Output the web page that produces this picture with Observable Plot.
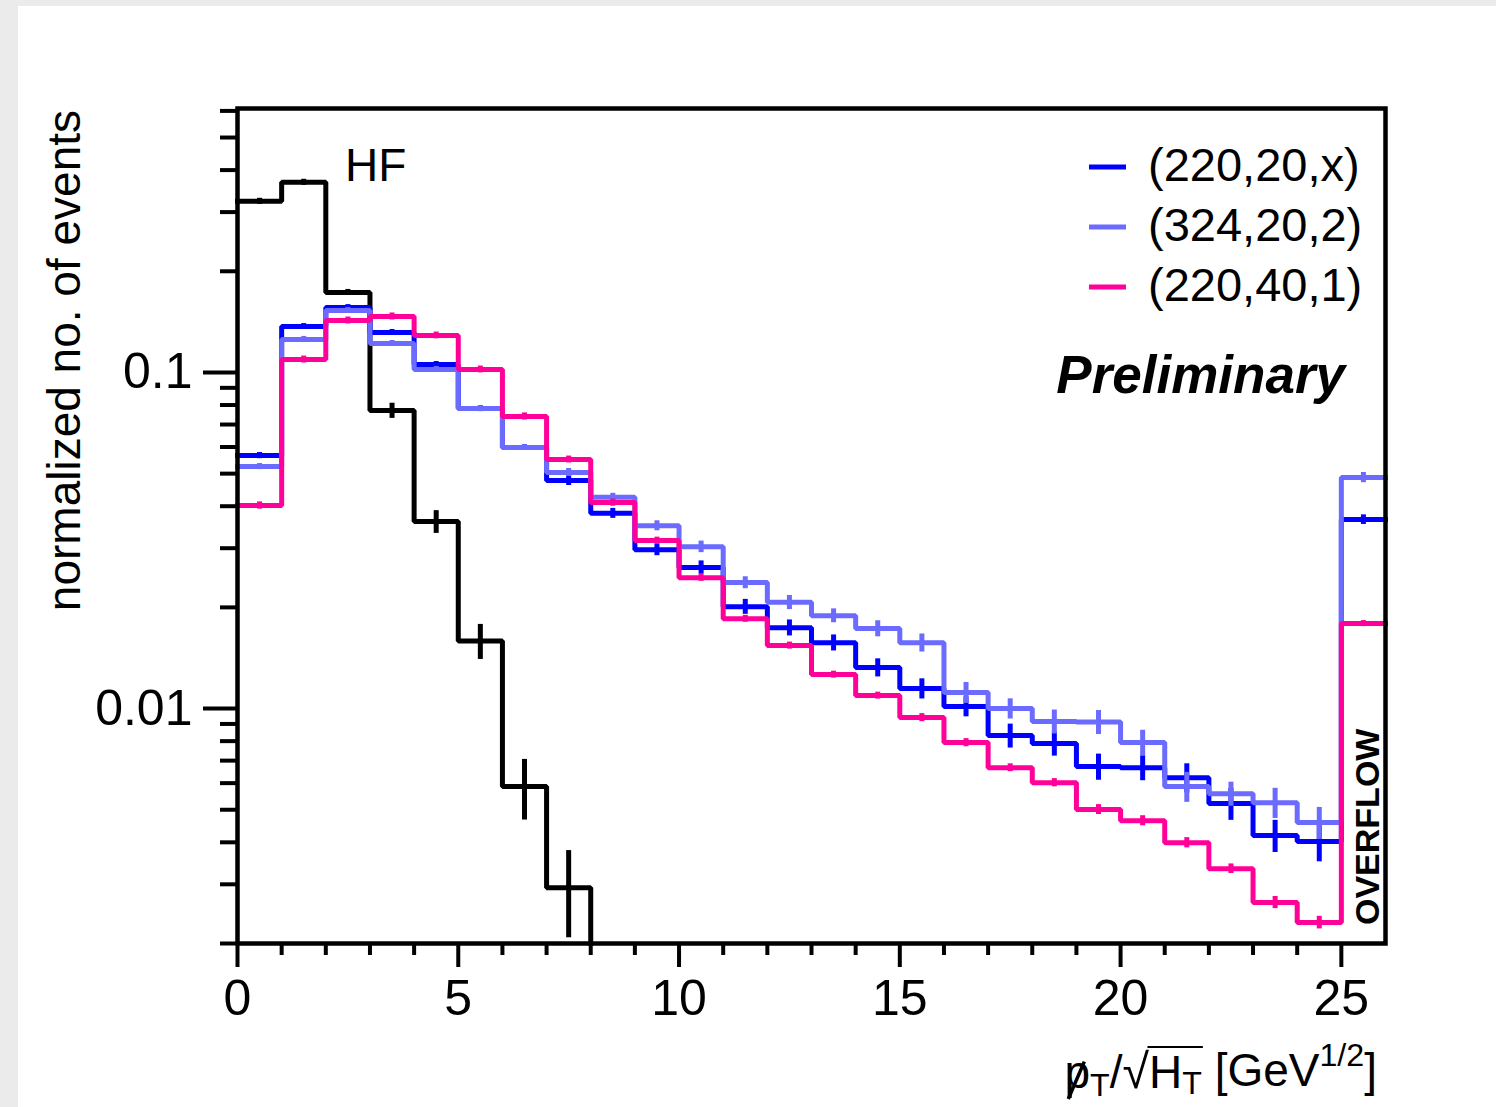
<!DOCTYPE html>
<html>
<head>
<meta charset="utf-8">
<script src="https://cdn.jsdelivr.net/npm/d3@7"></script>
<script src="https://cdn.jsdelivr.net/npm/@observablehq/plot@0.6"></script>
<style>
  html, body { margin: 0; padding: 0; background: #ebebeb; width: 1496px; height: 1107px; overflow: hidden; }
  #panel { position: absolute; left: 18px; top: 6px; width: 1478px; height: 1101px; background: #ffffff; }
</style>
</head>
<body>
<div id="panel"></div>
<script>
// ---- data: bin index 0..25 (bin 25 = overflow), bin width 1 ----
const binEdges = [0,1,2,3,4,5,6,7,8,9,10,11,12,13,14,15,16,17,18,19,20,21,22,23,24,25];

const hfValues = [0.323, 0.368, 0.173, 0.077, 0.036, 0.0159, 0.00586, 0.00293];
const hfErrors = [0.0067, 0.0076, 0.0036, 0.004, 0.0028, 0.0019, 0.0012, 0.00085];

const blueValues = [0.0566, 0.137, 0.156, 0.1315, 0.1056, 0.0781, 0.0598, 0.0477, 0.0381, 0.0297,
  0.0263, 0.0201, 0.0174, 0.0157, 0.01324, 0.01147, 0.01014, 0.00831, 0.00787, 0.00672,
  0.00667, 0.00623, 0.00522, 0.00419, 0.00402, 0.0365];
const blueErrors = [0.0012, 0.0028, 0.0032, 0.0027, 0.0022, 0.0016, 0.0012, 0.0016, 0.0013, 0.0012,
  0.0012, 0.00103, 0.00095, 0.00086, 0.00082, 0.00079, 0.00069, 0.00068, 0.00065, 0.0006,
  0.00057, 0.00062, 0.00057, 0.00046, 0.00052, 0.0012];

const lightValues = [0.0525, 0.1254, 0.1529, 0.122, 0.1021, 0.0781, 0.0598, 0.0504, 0.0425, 0.035,
  0.0303, 0.0237, 0.0207, 0.0189, 0.0173, 0.0157, 0.01116, 0.0100, 0.00915, 0.00912,
  0.00792, 0.00586, 0.00558, 0.00525, 0.00458, 0.0487];
const lightErrors = [0.0011, 0.0026, 0.0031, 0.0025, 0.0021, 0.0016, 0.0012, 0.0014, 0.0012, 0.0012,
  0.0012, 0.00097, 0.001, 0.0009, 0.00095, 0.00097, 0.0008, 0.00069, 0.00075, 0.00075,
  0.0007, 0.0006, 0.00046, 0.00054, 0.0005, 0.0017];

const pinkValues = [0.0402, 0.1093, 0.1428, 0.1468, 0.1289, 0.1021, 0.074, 0.0551, 0.041, 0.0316,
  0.0245, 0.0185, 0.0154, 0.01262, 0.01093, 0.0094, 0.00792, 0.00667, 0.00602, 0.00501,
  0.00464, 0.00399, 0.00334, 0.00265, 0.00231, 0.0179];
const pinkErrors = [0.001, 0.0026, 0.0034, 0.0035, 0.003, 0.0024, 0.0018, 0.0013, 0.001, 0.00076,
  0.00059, 0.00044, 0.00037, 0.0003, 0.00026, 0.00026, 0.00022, 0.00018, 0.00017, 0.00017,
  0.00016, 0.00014, 0.00011, 0.00011, 0.0001, 0.00037];

const seriesNames = ["(220,20,x)", "(324,20,2)", "(220,40,1)"];
const seriesColors = ["#0000ff", "#6b6bff", "#ff0099"];
const hfColor = "#000000";

const xMajorTicks = [0, 5, 10, 15, 20, 25];
const xMinorTicks = [1,2,3,4,6,7,8,9,11,12,13,14,16,17,18,19,21,22,23,24];
const yMajorTicks = [0.01, 0.1];
const yMajorLabels = ["0.01", "0.1"];
const yMinorTicks = [0.002,0.003,0.004,0.005,0.006,0.007,0.008,0.009,0.02,0.03,0.04,0.05,0.06,0.07,0.08,0.09,0.2,0.3,0.4,0.5,0.6];
const xDomain = [0, 26];
const yDomain = [0.002, 0.61];

// ---- build step paths and error bars from the arrays ----
function steps(values) {
  const pts = [];
  values.forEach((v, i) => { pts.push({x: binEdges[i], y: v}); pts.push({x: binEdges[i] + 1, y: v}); });
  return pts;
}
function errs(values, errors) {
  return values.map((v, i) => ({x: binEdges[i] + 0.5, lo: v - errors[i], hi: v + errors[i]}));
}
const hfSteps = steps(hfValues);
hfSteps.push({x: binEdges[hfValues.length], y: yDomain[0]}); // drops out of the range after last filled bin

const LW = 5;
const lineOpts = (color) => ({x: "x", y: "y", stroke: color, strokeWidth: LW, strokeLinejoin: "miter", strokeLinecap: "square"});
const errOpts = (color) => ({x: "x", y1: "lo", y2: "hi", stroke: color, strokeWidth: LW, strokeLinecap: "butt"});

const FONT = "'Liberation Sans', Arial, Helvetica, sans-serif";

const chart = Plot.plot({
  width: 1478,
  height: 1101,
  marginLeft: 219,
  marginRight: 111,
  marginTop: 102,
  marginBottom: 164,
  style: {fontFamily: FONT, background: "transparent", color: "black"},
  x: {domain: xDomain, label: null},
  y: {type: "log", domain: yDomain, label: null},
  marks: [
    Plot.line(hfSteps, lineOpts(hfColor)),
    Plot.ruleX(errs(hfValues, hfErrors), errOpts(hfColor)),
    Plot.line(steps(blueValues), lineOpts(seriesColors[0])),
    Plot.ruleX(errs(blueValues, blueErrors), errOpts(seriesColors[0])),
    Plot.line(steps(lightValues), lineOpts(seriesColors[1])),
    Plot.ruleX(errs(lightValues, lightErrors), errOpts(seriesColors[1])),
    Plot.line(steps(pinkValues), lineOpts(seriesColors[2])),
    Plot.ruleX(errs(pinkValues, pinkErrors), errOpts(seriesColors[2])),
    Plot.axisY(yMinorTicks, {tickSize: 17, tickFormat: () => "", strokeWidth: 4, label: null}),
    Plot.axisY(yMajorTicks, {tickSize: 34, tickPadding: 11, tickFormat: (d) => yMajorLabels[yMajorTicks.indexOf(d)], fontSize: 50, strokeWidth: 4, label: null}),
    Plot.axisX(xMinorTicks, {tickSize: 12, tickFormat: () => "", strokeWidth: 4, label: null}),
    Plot.axisX(xMajorTicks, {tickSize: 24, tickPadding: 12, fontSize: 50, strokeWidth: 4, label: null}),
    Plot.frame({stroke: "black", strokeWidth: 4.5})
  ]
});
chart.style.position = "absolute";
chart.style.left = "0px";
chart.style.top = "0px";
document.getElementById("panel").appendChild(chart);

// ---- annotations ----
const svg = d3.select(chart);
const g = svg.append("g").attr("font-family", FONT).attr("fill", "black").attr("text-anchor", "start");

// HF label
g.append("text").attr("x", 327).attr("y", 175).attr("font-size", 46).attr("text-anchor", "start").text("HF");

// legend
seriesNames.forEach((name, i) => {
  const yy = 161 + i * 60;
  g.append("line").attr("x1", 1071).attr("x2", 1108).attr("y1", yy).attr("y2", yy)
    .attr("stroke", seriesColors[i]).attr("stroke-width", 5);
  g.append("text").attr("x", 1130).attr("y", yy + 14).attr("font-size", 47).attr("text-anchor", "start").text(name);
});

// Preliminary
g.append("text").attr("x", 1327).attr("y", 387).attr("text-anchor", "end")
  .attr("font-size", 53).attr("font-weight", "bold").attr("font-style", "italic").text("Preliminary");

// OVERFLOW
g.append("text").attr("transform", "translate(1361,919) rotate(-90)").attr("text-anchor", "start")
  .attr("font-size", 34).attr("font-weight", "bold").text("OVERFLOW");

// y title
g.append("text").attr("transform", "translate(62,104) rotate(-90)").attr("text-anchor", "end")
  .attr("font-size", 46).text("normalized no. of events");

// x title: slashed p_T / sqrt(H_T) [GeV^{1/2}]
const xt = g.append("text").attr("x", 1359).attr("y", 1082).attr("text-anchor", "end").attr("font-size", 46);
xt.append("tspan").text("p");
xt.append("tspan").attr("dy", "0.25em").attr("font-size", "0.7em").text("T");
xt.append("tspan").attr("dy", "-0.175em").text("/");
xt.append("tspan").attr("font-size", "1.05em").text("\u221A");
xt.append("tspan").text("H");
xt.append("tspan").attr("dy", "0.175em").attr("font-size", "0.7em").text("T");
xt.append("tspan").attr("dy", "-0.175em").text(" [GeV");
xt.append("tspan").attr("dy", "-0.6em").attr("font-size", "0.7em").text("1/2");
xt.append("tspan").attr("dy", "0.42em").text("]");

// slash over p and overline of the square root, measured from the rendered glyphs
try {
  const node = xt.node();
  const full = node.textContent;
  const pExt = node.getExtentOfChar(0);
  g.append("line")
    .attr("x1", pExt.x + pExt.width * 0.78).attr("y1", pExt.y + pExt.height * 0.3)
    .attr("x2", pExt.x + pExt.width * 0.15).attr("y2", pExt.y + pExt.height * 1.02)
    .attr("stroke", "black").attr("stroke-width", 3.5);
  const iSq = full.indexOf("\u221A");
  const iT = full.indexOf("T [");
  const ext1 = node.getExtentOfChar(iSq);
  const ext2 = node.getExtentOfChar(iT);
  g.append("line")
    .attr("x1", ext1.x + ext1.width - 1.5).attr("x2", ext2.x + ext2.width + 1)
    .attr("y1", ext1.y + 3).attr("y2", ext1.y + 3)
    .attr("stroke", "black").attr("stroke-width", 2);
} catch (e) {}
</script>
</body>
</html>
